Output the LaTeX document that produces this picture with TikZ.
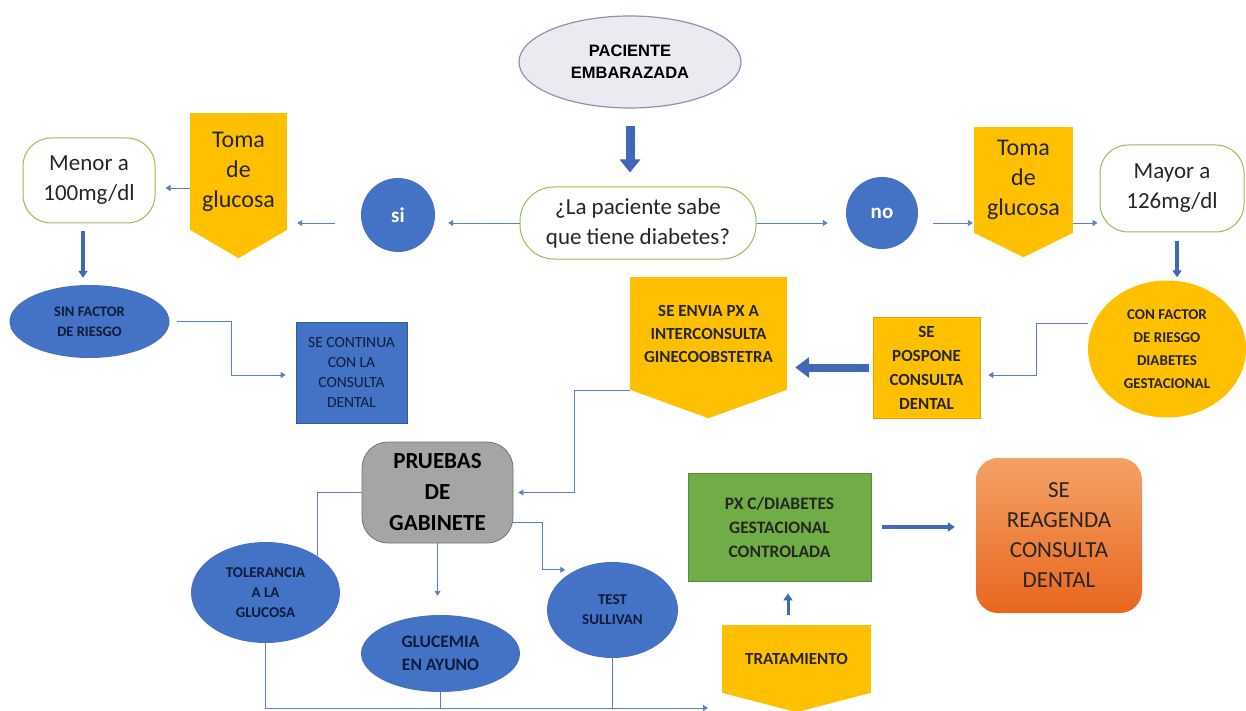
\documentclass[tikz,border=0pt]{standalone}
\usepackage{fontspec}
\setmainfont{Carlito}
\newfontfamily\arialf{Liberation Sans}
\usetikzlibrary{shapes.geometric,arrows.meta,calc}
\definecolor{cblue}{HTML}{4472C4}
\definecolor{cyel}{HTML}{FFC000}
\definecolor{cgreen}{HTML}{70AD47}
\definecolor{cgray}{HTML}{A5A5A5}
\definecolor{lnblue}{HTML}{5B7FC7}
\definecolor{navy}{HTML}{0E1C3D}
\definecolor{outgreen}{HTML}{9BBB59}
\definecolor{dark}{HTML}{262626}
\definecolor{pacfill}{HTML}{EAEAF0}
\definecolor{pacline}{HTML}{8496B0}
\definecolor{fatblue}{HTML}{4068B8}
\definecolor{orangetop}{HTML}{F4A266}
\definecolor{orangebot}{HTML}{E8661E}
\begin{document}
\begin{tikzpicture}[x=1pt,y=-1pt,
  conn/.style={draw=lnblue, line width=0.9pt, -{Triangle[width=6pt,length=5pt]}},
  plainline/.style={draw=lnblue, line width=0.9pt},
  fatarrow/.style={draw=fatblue, line width=9pt, -{Triangle[width=20pt,length=13pt]}},
  medarrow/.style={draw=fatblue, line width=3.5pt, -{Triangle[width=9pt,length=7pt]}},
  ybox/.style={fill=cyel, draw=none, inner sep=0pt, align=center, text=dark},
  wbox/.style={fill=white, draw=outgreen, line width=1pt, inner sep=0pt, align=center, text=dark},
  bell/.style={ellipse, fill=cblue, draw=none, inner sep=0pt, align=center, text=navy},
  dot/.style={circle, fill=cblue, draw=none, inner sep=0pt, text=white, font=\bfseries\fontsize{21}{25}\selectfont}
]
\useasboundingbox (0,0) rectangle (1246,711);
\fill[white] (0,0) rectangle (1246,711);

% top
\node[ellipse, minimum width=222pt, minimum height=92pt, fill=pacfill, draw=pacline, line width=1.2pt, inner sep=0pt, align=center, font=\arialf\bfseries\fontsize{16.5}{22}\selectfont] (pac) at (630,62) {PACIENTE\\EMBARAZADA};
\node[wbox, rounded corners=34pt, minimum width=236pt, minimum height=72pt, font=\fontsize{23}{30}\selectfont] (q) at (638,223) {¿La paciente sabe\\que tiene diabetes?};
\node[dot, minimum size=74pt] (si) at (398,215) {si};
\node[dot, minimum size=72pt] (no) at (882,213) {no};

% left branch
\node[ybox, minimum width=97pt, minimum height=117pt, font=\fontsize{24}{30}\selectfont] (tomaL) at (238.5,171.5) {Toma\\de\\glucosa};
\fill[cyel] ($(tomaL.south west)+(0,-0.5)$) -- ($(tomaL.south east)+(0,-0.5)$) -- ($(tomaL.south)+(0,28)$) -- cycle;
\node[wbox, rounded corners=28pt, minimum width=132pt, minimum height=85pt, font=\fontsize{23}{30}\selectfont] (menor) at (89,180.5) {Menor a\\100mg/dl};
\node[bell, minimum width=160pt, minimum height=73pt, font=\bfseries\fontsize{14.5}{20}\selectfont] (sin) at (89.5,321.5) {SIN FACTOR\\DE RIESGO};
\node[fill=cblue, draw=cblue!80!black, line width=0.8pt, inner sep=0pt, align=center, text=navy, minimum width=111pt, minimum height=101pt, font=\fontsize{15.5}{20}\selectfont] (cont) at (351.5,372.5) {SE CONTINUA\\CON LA\\CONSULTA\\DENTAL};

% right branch
\node[ybox, minimum width=99pt, minimum height=106pt, font=\fontsize{24}{30}\selectfont] (tomaR) at (1023.5,180) {Toma\\de\\glucosa};
\fill[cyel] ($(tomaR.south west)+(0,-0.5)$) -- ($(tomaR.south east)+(0,-0.5)$) -- ($(tomaR.south)+(0,24)$) -- cycle;
\node[wbox, rounded corners=28pt, minimum width=144pt, minimum height=87pt, font=\fontsize{23}{30}\selectfont] (mayor) at (1172,188.5) {Mayor a\\126mg/dl};
\node[ellipse, ybox, minimum width=158pt, minimum height=137pt, font=\bfseries\fontsize{15}{23}\selectfont] (con) at (1167,349) {CON FACTOR\\DE RIESGO\\DIABETES\\GESTACIONAL};
\node[ybox, draw=cyel!85!black, line width=0.6pt, minimum width=107pt, minimum height=101pt, font=\bfseries\fontsize{17}{24}\selectfont] (pos) at (926.5,367.5) {SE\\POSPONE\\CONSULTA\\DENTAL};
\node[ybox, minimum width=157pt, minimum height=113pt, font=\bfseries\fontsize{17}{23}\selectfont] (envia) at (708.5,333.5) {SE ENVIA PX A\\INTERCONSULTA\\GINECOOBSTETRA};
\fill[cyel] ($(envia.south west)+(0,-0.5)$) -- ($(envia.south east)+(0,-0.5)$) -- ($(envia.south)+(0,28)$) -- cycle;

% bottom
\node[fill=cgray, draw=cgray!70!black, line width=0.8pt, rounded corners=26pt, inner sep=0pt, align=center, text=black, minimum width=151pt, minimum height=101pt, font=\bfseries\fontsize{23}{31}\selectfont] (pru) at (437.5,492.5) {PRUEBAS\\DE\\GABINETE};
\node[bell, minimum width=149pt, minimum height=101pt, font=\bfseries\fontsize{15}{20}\selectfont] (tol) at (265.5,592.5) {TOLERANCIA\\A LA\\GLUCOSA};
\node[bell, minimum width=159pt, minimum height=77pt, font=\bfseries\fontsize{17.5}{23}\selectfont] (glu) at (440.5,653.5) {GLUCEMIA\\EN AYUNO};
\node[bell, minimum width=131pt, minimum height=96pt, font=\bfseries\fontsize{15}{20}\selectfont] (sul) at (612.5,610) {TEST\\SULLIVAN};
\node[fill=cgreen, draw=cgreen!80!black, line width=0.8pt, inner sep=0pt, align=center, text=dark, minimum width=183pt, minimum height=108pt, font=\bfseries\fontsize{17.5}{24}\selectfont] (px) at (779.5,527) {PX C/DIABETES\\GESTACIONAL\\CONTROLADA};
\node[top color=orangetop, bottom color=orangebot, draw=none, rounded corners=22pt, inner sep=0pt, align=center, text=dark, minimum width=166pt, minimum height=155pt, font=\fontsize{23}{30}\selectfont] (rea) at (1059,535.5) {SE\\REAGENDA\\CONSULTA\\DENTAL};
\node[ybox, minimum width=149pt, minimum height=68pt, font=\bfseries\fontsize{17}{22}\selectfont] (trat) at (796.5,659) {TRATAMIENTO};
\fill[cyel] ($(trat.south west)+(0,-0.5)$) -- ($(trat.south east)+(0,-0.5)$) -- ($(trat.south)+(0,19)$) -- cycle;
\coordinate (busend) at (708,708);

% connectors
\draw[fatarrow, shorten <=17pt, shorten >=14pt] (pac.south) -- (pac.south |- q.north);
\draw[conn, shorten >=13pt] (q.west) -- (q.west -| si.east);
\draw[conn, shorten <=26pt, shorten >=10pt] (q.west -| si.west) -- (q.west -| tomaL.east);
\draw[conn, shorten >=10pt] ([yshift=-16.5pt]tomaL.west) -- ([yshift=-16.5pt]tomaL.west -| menor.east);
\draw[medarrow, shorten <=8pt, shorten >=7pt] ([xshift=-6pt]menor.south) -- ([xshift=-6pt]menor.south |- sin.north);
\draw[conn, shorten <=7pt, shorten >=10pt] (sin.east) -- ++(62,0) |- ([yshift=-2.5pt]cont.west);

\draw[conn, shorten >=18pt] (q.east) -- (q.east -| no.west);
\draw[conn, shorten <=15pt, shorten >=1pt] (q.east -| no.east) -- (q.east -| tomaR.west);
\draw[conn, shorten >=2pt] (q.east -| tomaR.east) -- (q.east -| mayor.west);
\draw[medarrow, shorten <=8pt, shorten >=3pt] ([xshift=5pt]mayor.south) -- ([xshift=5pt]mayor.south |- con.north);
\draw[conn, shorten >=8pt] ([yshift=26pt]con.west) -- ++(-51,0) |- ([yshift=-7.5pt]pos.east);
\draw[draw=fatblue, line width=8pt, -{Triangle[width=20pt,length=14pt]}, shorten <=4pt, shorten >=8pt] (pos.west) -- (pos.west -| envia.east);
\draw[conn, shorten >=5pt] (envia.south west) -- ++(-55,0) |- (pru.east);

\draw[plainline] (pru.west) -| (tol.35);
\draw[conn, shorten >=19pt] (pru.south) -- (pru.south |- glu.north);
\draw[conn, shorten >=11pt] ([yshift=-29.5pt]pru.east) -- ++(29,0) |- (sul.132);
\draw[conn] (tol.south) |- (busend);
\draw[plainline] (glu.south) -- (glu.south |- busend);
\draw[plainline] (sul.south) -- (sul.south |- busend);

\draw[draw=fatblue, line width=3pt, -{Triangle[width=9pt,length=7pt]}, shorten <=10pt, shorten >=12pt] ([xshift=-8.5pt]trat.north) -- ([xshift=-8.5pt]trat.north |- px.south);
\draw[medarrow, shorten <=11pt, shorten >=21pt] (px.east) -- (px.east -| rea.west);
\end{tikzpicture}
\end{document}
